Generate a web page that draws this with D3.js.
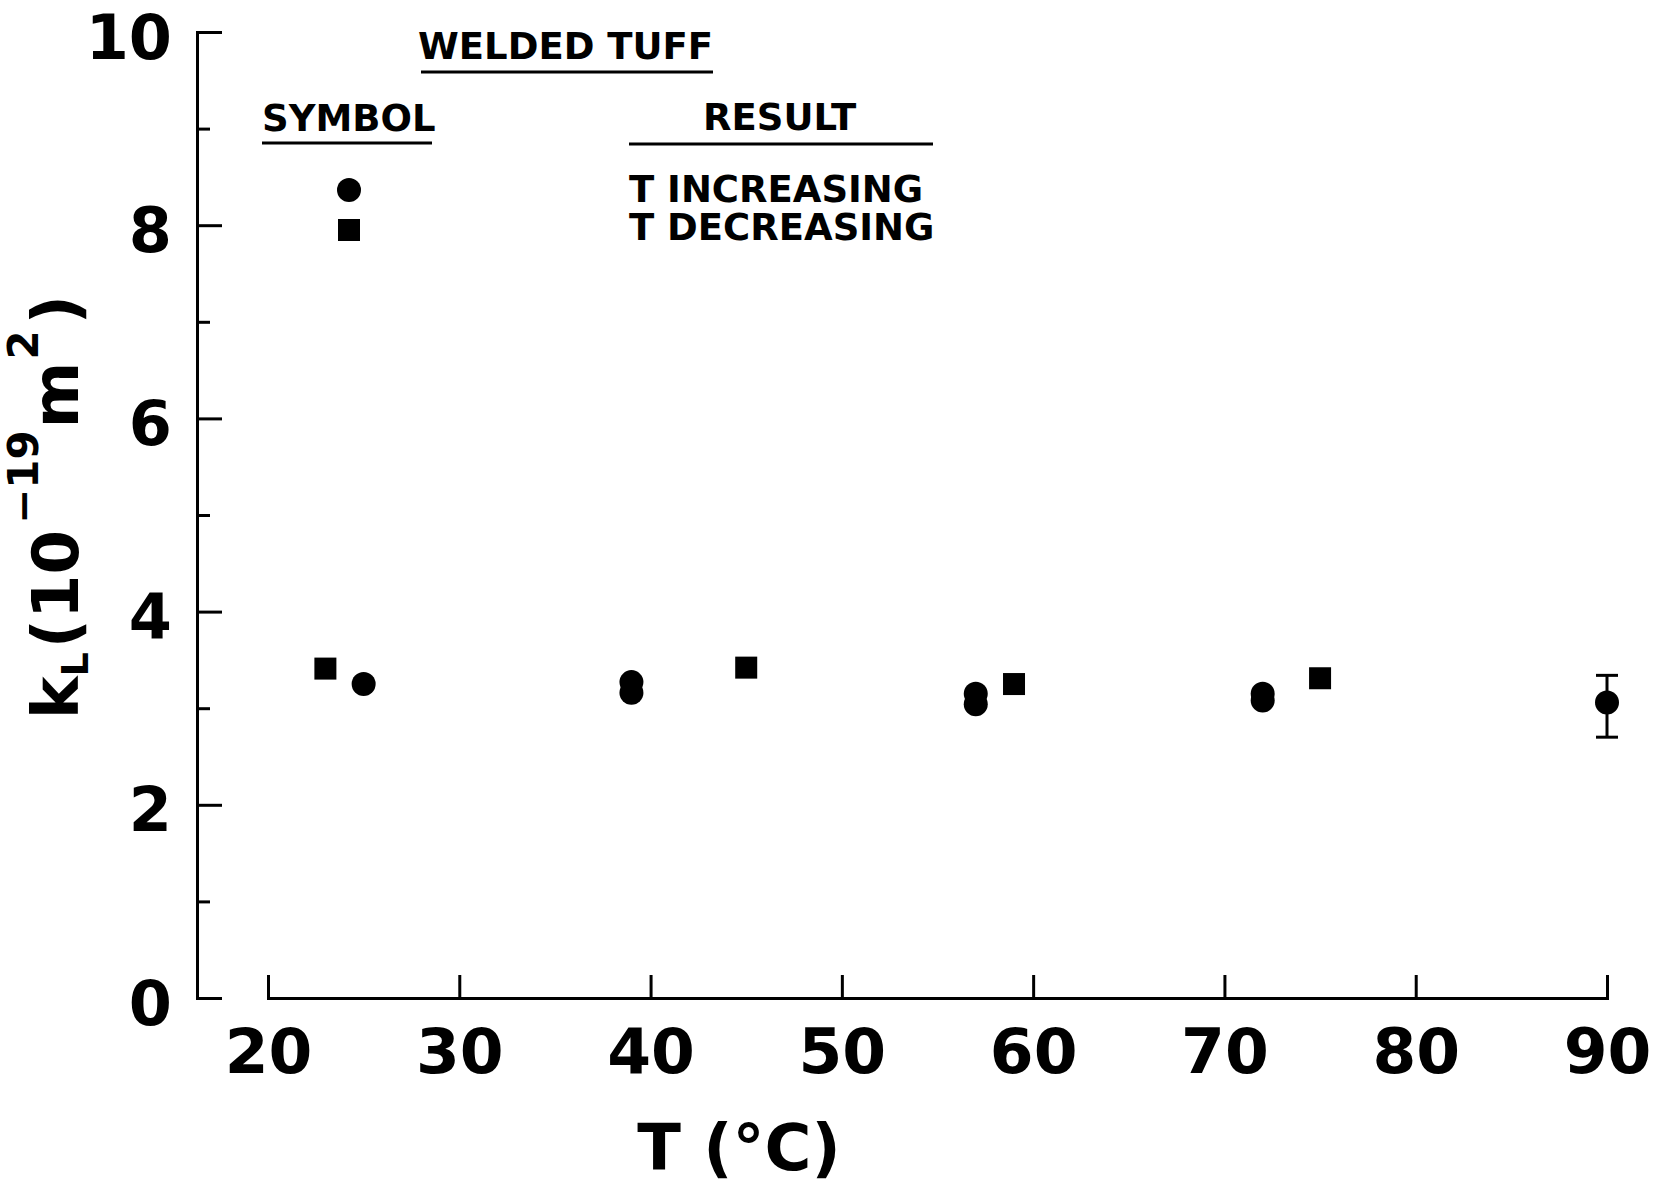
<!DOCTYPE html>
<html>
<head>
<meta charset="utf-8">
<script src="https://cdn.jsdelivr.net/npm/d3@7"></script>
<style>
  body { margin: 0; background: #fff; }
  svg { display: block; font-family: "DejaVu Sans", sans-serif; font-weight: bold; }
  .axis path, .axis line { stroke: #000; stroke-width: 3; }
  .axis text { fill: #000; font-family: "DejaVu Sans", sans-serif; font-weight: bold; }
</style>
</head>
<body>
<svg id="chart"></svg>
<script>
// data
const tempInc = [25, 39, 39, 57, 57, 72, 72, 90];
const kInc = [3.25, 3.27, 3.16, 3.15, 3.04, 3.15, 3.08, 3.06];
const tempDec = [23, 45, 59, 75];
const kDec = [3.41, 3.42, 3.25, 3.31];
const errTemp = [90];
const errLow = [2.70];
const errHigh = [3.34];

const xTicks = [20, 30, 40, 50, 60, 70, 80, 90];
const yTicks = [0, 2, 4, 6, 8, 10];
const yMinor = [1, 3, 5, 7, 9];

const width = 1669;
const height = 1185;

const svg = d3.select("#chart")
  .attr("width", width)
  .attr("height", height);

const x = d3.scaleLinear().domain([20, 90]).range([268, 1607]);
const y = d3.scaleLinear().domain([0, 10]).range([998, 32]);
const yAxisX = 197;

// y axis, ticks point inward
const yAxis = svg.append("g")
  .attr("class", "axis")
  .attr("transform", `translate(${yAxisX},0)`)
  .call(d3.axisLeft(y).tickValues(yTicks).tickFormat(d3.format("d"))
    .tickSizeInner(-25).tickSizeOuter(-25).tickPadding(25));
yAxis.selectAll("text").attr("font-size", 62).attr("dy", "0.42em");

svg.append("g")
  .attr("class", "axis")
  .attr("transform", `translate(${yAxisX},0)`)
  .call(d3.axisLeft(y).tickValues(yMinor).tickFormat("").tickSize(-13))
  .select(".domain").remove();

// x axis, separate from y axis, ticks upward
const xAxis = svg.append("g")
  .attr("class", "axis")
  .attr("transform", `translate(0,${y(0)})`)
  .call(d3.axisBottom(x).tickValues(xTicks).tickFormat(d3.format("d"))
    .tickSizeInner(-23).tickSizeOuter(-23).tickPadding(30));
xAxis.selectAll("text").attr("font-size", 63);

// axis titles
svg.append("text")
  .attr("x", 739)
  .attr("y", 1170)
  .attr("text-anchor", "middle")
  .attr("font-size", 64)
  .text("T (°C)");

const yTitle = svg.append("text")
  .attr("transform", "translate(78,719) rotate(-90)")
  .attr("font-size", 64);
yTitle.append("tspan").text("k");
yTitle.append("tspan").attr("font-size", 38).attr("dy", 10).text("L");
yTitle.append("tspan").attr("dy", -10).attr("dx", 4).text("(10");
yTitle.append("tspan").attr("font-size", 42).attr("dy", -40).attr("dx", 6).text("−19");
yTitle.append("tspan").attr("dy", 40).attr("dx", 2).text("m");
yTitle.append("tspan").attr("font-size", 42).attr("dy", -40).attr("dx", 2).text("2");
yTitle.append("tspan").attr("dy", 40).attr("dx", 6).text(")");

// error bar
const err = errTemp.map((t, i) => ({ t, lo: errLow[i], hi: errHigh[i] }));
const eb = svg.append("g").attr("stroke", "#000").attr("stroke-width", 3);
eb.selectAll(".v").data(err).enter().append("line")
  .attr("x1", d => x(d.t)).attr("x2", d => x(d.t))
  .attr("y1", d => y(d.lo)).attr("y2", d => y(d.hi));
eb.selectAll(".lo").data(err).enter().append("line")
  .attr("x1", d => x(d.t) - 11).attr("x2", d => x(d.t) + 11)
  .attr("y1", d => y(d.lo)).attr("y2", d => y(d.lo));
eb.selectAll(".hi").data(err).enter().append("line")
  .attr("x1", d => x(d.t) - 11).attr("x2", d => x(d.t) + 11)
  .attr("y1", d => y(d.hi)).attr("y2", d => y(d.hi));

// T increasing - circles
svg.selectAll(".inc")
  .data(tempInc.map((t, i) => ({ t, k: kInc[i] })))
  .enter().append("circle")
  .attr("cx", d => x(d.t))
  .attr("cy", d => y(d.k))
  .attr("r", 12)
  .attr("fill", "#000");

// T decreasing - squares
svg.selectAll(".dec")
  .data(tempDec.map((t, i) => ({ t, k: kDec[i] })))
  .enter().append("rect")
  .attr("x", d => x(d.t) - 11)
  .attr("y", d => y(d.k) - 11)
  .attr("width", 22)
  .attr("height", 22)
  .attr("fill", "#000");

// legend
const legend = svg.append("g").attr("font-size", 37);
legend.append("text").attr("x", 418).attr("y", 59).text("WELDED TUFF");
legend.append("text").attr("x", 262).attr("y", 131).text("SYMBOL");
legend.append("text").attr("x", 703).attr("y", 130).text("RESULT");
legend.append("text").attr("x", 629).attr("y", 202).text("T INCREASING");
legend.append("text").attr("x", 629).attr("y", 240).text("T DECREASING");

const underlines = [[421, 713, 72], [262, 432, 143], [629, 933, 144]];
legend.selectAll("line").data(underlines).enter().append("line")
  .attr("x1", d => d[0]).attr("x2", d => d[1])
  .attr("y1", d => d[2]).attr("y2", d => d[2])
  .attr("stroke", "#000").attr("stroke-width", 3);

legend.append("circle").attr("cx", 349).attr("cy", 190).attr("r", 12).attr("fill", "#000");
legend.append("rect").attr("x", 338).attr("y", 219).attr("width", 22).attr("height", 22).attr("fill", "#000");
</script>
</body>
</html>
